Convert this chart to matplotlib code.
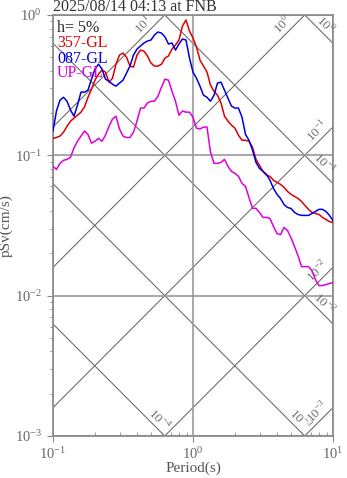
import numpy as np
import matplotlib
matplotlib.use('Agg')
import matplotlib.pyplot as plt
from matplotlib.ticker import LogLocator, LogFormatterMathtext, NullFormatter

plt.rcParams['font.family'] = ['Liberation Serif', 'DejaVu Serif']
plt.rcParams['mathtext.fontset'] = 'custom'
plt.rcParams['mathtext.rm'] = 'Liberation Serif'

# periods (s)
periods = [0.1, 0.1059, 0.1122, 0.1189, 0.1259, 0.1334, 0.1413, 0.1496, 0.1585, 0.1679,
           0.1778, 0.1884, 0.1995, 0.2113, 0.2239, 0.2371, 0.2512, 0.2661, 0.2818, 0.2985,
           0.3162, 0.3350, 0.3548, 0.3758, 0.3981, 0.4217, 0.4467, 0.4732, 0.5012, 0.5309,
           0.5623, 0.5957, 0.6310, 0.6683, 0.7079, 0.7499, 0.7943, 0.8414, 0.8913, 0.9441,
           1.0, 1.059, 1.122, 1.189, 1.259, 1.334, 1.413, 1.496, 1.585, 1.679,
           1.778, 1.884, 1.995, 2.113, 2.239, 2.371, 2.512, 2.661, 2.818, 2.985,
           3.162, 3.350, 3.548, 3.758, 3.981, 4.217, 4.467, 4.732, 5.012, 5.309,
           5.623, 5.957, 6.310, 6.683, 7.079, 7.499, 7.943, 8.414, 8.913, 9.441, 10.0]

# pSv (cm/s)
sv_357 = [0.132, 0.134, 0.137, 0.146, 0.161, 0.175, 0.184, 0.193, 0.203, 0.221,
          0.259, 0.296, 0.343, 0.379, 0.405, 0.392, 0.332, 0.354, 0.446, 0.518,
          0.535, 0.501, 0.432, 0.425, 0.518, 0.562, 0.552, 0.510, 0.454, 0.432,
          0.432, 0.446, 0.493, 0.510, 0.571, 0.611, 0.663, 0.834, 0.921, 0.768,
          0.685, 0.591, 0.477, 0.432, 0.392, 0.316, 0.286, 0.268, 0.236, 0.190,
          0.175, 0.164, 0.156, 0.139, 0.128, 0.128, 0.126, 0.114, 0.0936, 0.0848,
          0.0768, 0.0720, 0.0708, 0.0663, 0.0642, 0.0621, 0.0591, 0.0553, 0.0527, 0.0510,
          0.0493, 0.0469, 0.0439, 0.0412, 0.0392, 0.0385, 0.0379, 0.0361, 0.0349, 0.0337, 0.0332]

sv_087 = [0.149, 0.207, 0.247, 0.259, 0.243, 0.210, 0.190, 0.228, 0.282, 0.282,
          0.291, 0.349, 0.412, 0.446, 0.412, 0.349, 0.337, 0.321, 0.311, 0.327,
          0.343, 0.385, 0.432, 0.518, 0.571, 0.601, 0.631, 0.652, 0.663, 0.720,
          0.756, 0.743, 0.697, 0.621, 0.631, 0.562, 0.621, 0.674, 0.663, 0.493,
          0.392, 0.354, 0.311, 0.268, 0.259, 0.243, 0.268, 0.327, 0.332, 0.291,
          0.255, 0.224, 0.217, 0.217, 0.187, 0.141, 0.128, 0.109, 0.0891, 0.0807,
          0.0768, 0.0732, 0.0663, 0.0581, 0.0527, 0.0493, 0.0446, 0.0425, 0.0418, 0.0392,
          0.0379, 0.0373, 0.0373, 0.0373, 0.0385, 0.0398, 0.0412, 0.0412, 0.0398, 0.0373, 0.0343]

sv_up = [0.0834, 0.0794, 0.0876, 0.0921, 0.0936, 0.0968, 0.113, 0.126, 0.137, 0.149,
         0.141, 0.122, 0.126, 0.132, 0.126, 0.139, 0.161, 0.181, 0.190, 0.154,
         0.137, 0.134, 0.134, 0.146, 0.175, 0.217, 0.217, 0.236, 0.243, 0.243,
         0.264, 0.306, 0.349, 0.343, 0.286, 0.243, 0.193, 0.207, 0.203, 0.203,
         0.187, 0.156, 0.154, 0.159, 0.159, 0.105, 0.0876, 0.0876, 0.0891, 0.0936,
         0.0834, 0.0768, 0.0744, 0.0708, 0.0631, 0.0601, 0.0501, 0.0419, 0.0419, 0.0392,
         0.0361, 0.0361, 0.0355, 0.0311, 0.0277, 0.0272, 0.0306, 0.0291, 0.0259, 0.0224,
         0.0193, 0.0161, 0.0161, 0.0161, 0.0151, 0.0130, 0.0118, 0.0118, 0.0120, 0.0122, 0.0124]

acc_levels = [1e-3, 1e-2, 1e-1, 1e0, 1e1]    # Sa (cm/s^2)
disp_levels = [1e-4, 1e-3, 1e-2, 1e-1, 1e0]  # Sd (cm)
exps_acc = [-3, -2, -1, 0, 1]
exps_disp = [-4, -3, -2, -1, 0]

title = '2025/08/14 04:13 at FNB'
names = ['357-GL', '087-GL', 'UP-GL']
colors = ['#dd0000', '#0000dd', '#dd00dd']

fig = plt.figure(figsize=(3.47, 4.78), dpi=100)
ax = fig.add_axes([0.1527, 0.0879, 0.8069, 0.8808])
ax.set_xscale('log')
ax.set_yscale('log')
ax.set_xlim(0.1, 10)
ax.set_ylim(1e-3, 1)

gcol = '#888888'
dcol = '#666666'
# 三联谱斜线
tt = np.array([0.1, 10.0])
for sa, e in zip(acc_levels, exps_acc):
    ax.plot(tt, sa * tt / (2 * np.pi), color=dcol, lw=0.75, zorder=1)
    tend = min(2 * np.pi / sa, 10.0)
    svend = sa * tend / (2 * np.pi)
    off = (-9, -9) if tend < 10 else (-1, -1)
    ax.annotate('$10^{%d}$' % e, xy=(tend, svend), xytext=off, textcoords='offset pixels',
                rotation=45, rotation_mode='anchor', ha='right', va='bottom',
                fontsize=9.5, color='#707070', annotation_clip=False)
for sd, e in zip(disp_levels, exps_disp):
    ax.plot(tt, 2 * np.pi * sd / tt, color=dcol, lw=0.75, zorder=1)
    tend = min(2 * np.pi * sd / 1e-3, 10.0)
    svend = 2 * np.pi * sd / tend
    off = (-6, 6) if tend >= 10 else (-2, 2)
    ax.annotate('$10^{%d}$' % e, xy=(tend, svend), xytext=off, textcoords='offset pixels',
                rotation=-45, rotation_mode='anchor', ha='right', va='bottom',
                fontsize=9.5, color='#707070', annotation_clip=False)

# 主网格
ax.grid(True, which='major', color='#999999', lw=1.2)

ax.plot(periods, sv_357, color=colors[0], lw=1.1, zorder=3)
ax.plot(periods, sv_087, color=colors[1], lw=1.1, zorder=3)
ax.plot(periods, sv_up, color=colors[2], lw=1.1, zorder=3)

# 图例文字
ax.text(0.014, 0.969, 'h= 5%', transform=ax.transAxes, fontsize=11.5, color='#222222', va='center', zorder=4)
ys = [0.933, 0.896, 0.862]
for n, c, y in zip(names, colors, ys):
    ax.text(0.014, y, n, transform=ax.transAxes, fontsize=11.5, color=c, va='center', zorder=4)

ax.set_title(title, loc='left', fontsize=11.5, color='#333333', pad=1.5)
ax.set_xlabel('Period(s)', fontsize=11, color='#555555', labelpad=0)
ax.set_ylabel('pSv(cm/s)', fontsize=11, color='#555555', labelpad=1)

ax.xaxis.set_major_locator(LogLocator(base=10))
ax.yaxis.set_major_locator(LogLocator(base=10))
ax.xaxis.set_major_formatter(LogFormatterMathtext())
ax.yaxis.set_major_formatter(LogFormatterMathtext())
ax.xaxis.set_minor_formatter(NullFormatter())
ax.yaxis.set_minor_formatter(NullFormatter())
ax.tick_params(which='both', colors=gcol, labelcolor='#666666', labelsize=10.5)
ax.tick_params(axis='x', which='major', direction='out', length=4, pad=3)
ax.tick_params(axis='x', which='minor', direction='in', length=3)
ax.tick_params(axis='y', which='major', direction='out', length=4, pad=4)
ax.tick_params(axis='y', which='minor', direction='out', length=2.5)
for s in ax.spines.values():
    s.set_color(gcol)
    s.set_linewidth(1.2)

plt.savefig('out.png', dpi=100)
